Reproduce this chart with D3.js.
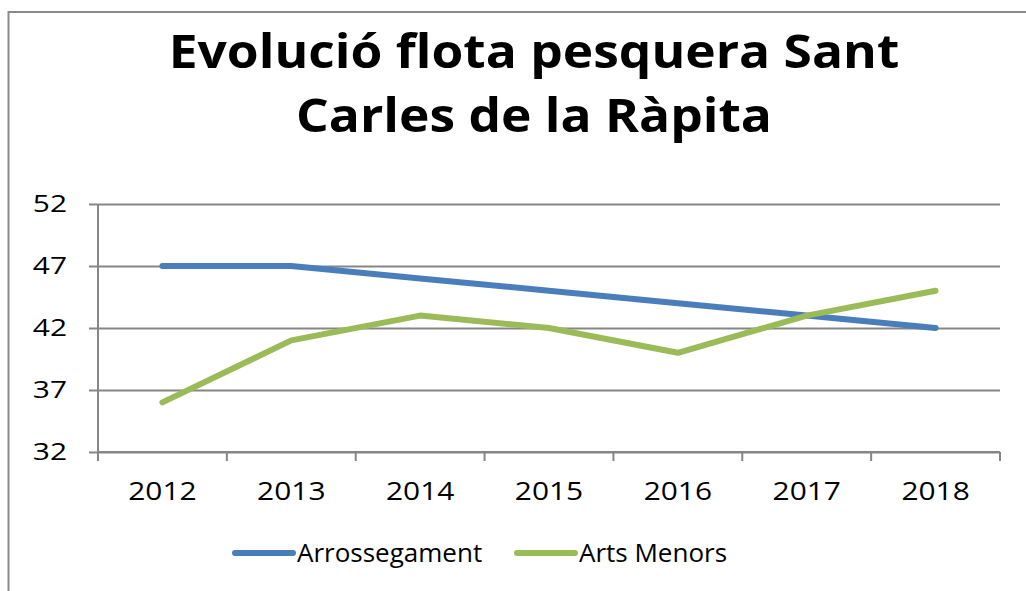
<!DOCTYPE html>
<html>
<head>
<meta charset="utf-8">
<script src="https://cdn.jsdelivr.net/npm/d3@7"></script>
<style>
	body { margin: 0; background: #fff; }
	text { font-family: "Open Sans", sans-serif; fill: #000; }
</style>
</head>
<body>
<script>
const years = ["2012", "2013", "2014", "2015", "2016", "2017", "2018"];
const arrossegament = [47, 47, 46, 45, 44, 43, 42];
const artsMenors = [36, 41, 43, 42, 40, 43, 45];
const yTicks = [32, 37, 42, 47, 52];
const seriesNames = ["Arrossegament", "Arts Menors"];
const seriesColors = ["#4a7ebb", "#9bbb59"];
const titleLines = ["Evolució flota pesquera Sant", "Carles de la Ràpita"];

const svgWidth = 1026;
const svgHeight = 591;
const plot = { left: 98, right: 1000, top: 204, bottom: 452 };
const gridColor = "#868686";

const svg = d3
	.select("body")
	.append("svg")
	.attr("width", svgWidth)
	.attr("height", svgHeight);

// frame (only the top and left edges are in the picture)
svg
	.append("path")
	.attr("d", "M8.5,591V12H1026")
	.attr("fill", "none")
	.attr("stroke", "#8a8a8a")
	.attr("stroke-width", 2);

//title (the original font is a bit wider, so stretch it)
svg
	.selectAll(".title")
	.data(titleLines)
	.enter()
	.append("text")
	.attr("class", "title")
	.attr("transform", (d, i) => `translate(534,${68 + i * 64}) scale(1.12,1)`)
	.attr("text-anchor", "middle")
	.style("font-size", "46px")
	.style("font-weight", "bold")
	.text((d) => d);

//scales
const xScale = d3
	.scaleBand()
	.domain(years)
	.range([plot.left, plot.right]);

const yScale = d3
	.scaleLinear()
	.domain([32, 52])
	.range([plot.bottom, plot.top]);

//gridlines
const yAxis = svg
	.append("g")
	.attr("transform", `translate(${plot.left},0)`)
	.call(
		d3.axisLeft(yScale)
			.tickValues(yTicks)
			.tickSize(-(plot.right - plot.left))
	);
yAxis.select(".domain").remove();
yAxis.selectAll("text").remove();
yAxis.selectAll("line").attr("stroke", gridColor).attr("stroke-width", 2).attr("x1", -9);

//y labels
svg
	.selectAll(".ylabel")
	.data(yTicks)
	.enter()
	.append("text")
	.attr("class", "ylabel")
	.attr("transform", (d) => `translate(67,${yScale(d) + 8}) scale(1.3,1)`)
	.attr("text-anchor", "end")
	.style("font-size", "23px")
	.text((d) => d);

//y axis line
svg
	.append("line")
	.attr("x1", plot.left)
	.attr("x2", plot.left)
	.attr("y1", plot.top)
	.attr("y2", plot.bottom + 9)
	.attr("stroke", gridColor)
	.attr("stroke-width", 2);

//x axis line
svg
	.append("line")
	.attr("x1", plot.left)
	.attr("x2", plot.right)
	.attr("y1", plot.bottom)
	.attr("y2", plot.bottom)
	.attr("stroke", gridColor)
	.attr("stroke-width", 2);

//x tick marks between categories
svg
	.selectAll(".xtick")
	.data(years.concat(["end"]))
	.enter()
	.append("line")
	.attr("class", "xtick")
	.attr("x1", (d, i) => plot.left + i * xScale.step())
	.attr("x2", (d, i) => plot.left + i * xScale.step())
	.attr("y1", plot.bottom)
	.attr("y2", plot.bottom + 9)
	.attr("stroke", gridColor)
	.attr("stroke-width", 2);

//x labels
svg
	.selectAll(".xlabel")
	.data(years)
	.enter()
	.append("text")
	.attr("class", "xlabel")
	.attr("transform", (d) => `translate(${xScale(d) + xScale.bandwidth() / 2},500) scale(1.15,1)`)
	.attr("text-anchor", "middle")
	.style("font-size", "26px")
	.text((d) => d);

//lines
const line = d3
	.line()
	.x((d, i) => xScale(years[i]) + xScale.bandwidth() / 2)
	.y((d) => yScale(d));

svg
	.selectAll(".series")
	.data([arrossegament, artsMenors])
	.enter()
	.append("path")
	.attr("class", "series")
	.attr("d", line)
	.attr("fill", "none")
	.attr("stroke", (d, i) => seriesColors[i])
	.attr("stroke-width", 6)
	.attr("stroke-linecap", "round")
	.attr("stroke-linejoin", "round");

//legend
const legendX = [235, 517];
const legend = svg
	.selectAll(".legend")
	.data(seriesNames)
	.enter()
	.append("g")
	.attr("class", "legend")
	.attr("transform", (d, i) => `translate(${legendX[i]},553)`);

legend
	.append("line")
	.attr("x1", 0)
	.attr("x2", 58)
	.attr("stroke", (d, i) => seriesColors[i])
	.attr("stroke-width", 6)
	.attr("stroke-linecap", "round");

legend
	.append("text")
	.attr("x", 62)
	.attr("y", 9)
	.style("font-size", "26px")
	.text((d) => d);
</script>
</body>
</html>
